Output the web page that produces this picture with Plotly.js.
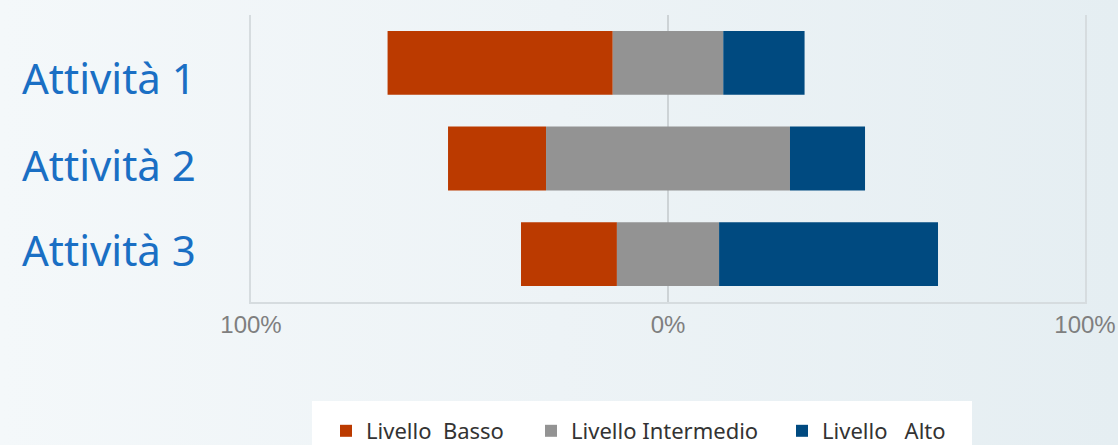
<!DOCTYPE html>
<html>
<head>
<meta charset="utf-8">
<script src="https://cdn.plot.ly/plotly-3.0.1.min.js"></script>
<style>
  html, body { margin: 0; padding: 0; }
  body { width: 1118px; height: 445px; overflow: hidden;
         background: linear-gradient(90deg, #f4f8fa 0%, #edf3f6 50%, #e5eef2 100%); }
  #chart { width: 1118px; height: 445px; }
</style>
</head>
<body>
<div id="chart"></div>
<script>
// ---- data ----
const categories = ["Attività 1", "Attività 2", "Attività 3"];
const seriesNames = ["Livello\u00a0\u00a0Basso", "Livello Intermedio", "Livello\u00a0\u00a0\u00a0Alto"];
const basso = [54, 23.5, 23];
const intermedio = [26.5, 58.5, 24.5];
const alto = [19.5, 18, 52.5];
const tickValues = [-100, 0, 100];
const tickLabels = ["100%", "0%", "100%"];

// ---- style ----
const colors = ["#bb3a00", "#939393", "#004a80"];
const W = 1118, H = 445;
const M = {l: 251, r: 33, t: 15, b: 143, autoexpand: false};
const plotW = W - M.l - M.r, plotH = H - M.t - M.b;
const px2x = p => (p - M.l) / plotW;
const px2y = p => (H - M.b - p) / plotH;
const labelCenters = [77, 164, 250];
const legendLefts = [326, 531, 782];
const legendIds = ["legend", "legend2", "legend3"];

const halfInter = intermedio.map(v => v / 2);
const baseB = basso.map((v, i) => -halfInter[i] - v);
const baseI = halfInter.map(v => -v);
const baseA = halfInter.slice();

const mk = (name, vals, base, color, leg) => ({
  type: "bar", orientation: "h", name: name,
  y: categories, x: vals, base: base, width: 0.667,
  marker: {color: color, line: {width: 0}},
  legend: leg,
  hoverinfo: "skip"
});

const data = [
  mk(seriesNames[0], basso, baseB, colors[0], legendIds[0]),
  mk(seriesNames[1], intermedio, baseI, colors[1], legendIds[1]),
  mk(seriesNames[2], alto, baseA, colors[2], legendIds[2])
];

const legendStyle = i => ({
  orientation: "h",
  x: px2x(legendLefts[i]), y: px2y(410), xanchor: "left", yanchor: "top",
  bgcolor: "rgba(0,0,0,0)", borderwidth: 0,
  font: {family: "Noto Sans, Open Sans, sans-serif", size: 22, color: "#333333"},
  itemclick: false, itemdoubleclick: false
});

const layout = {
  width: W, height: H,
  margin: M,
  paper_bgcolor: "rgba(0,0,0,0)",
  plot_bgcolor: "rgba(0,0,0,0)",
  barmode: "overlay",
  showlegend: true,
  font: {family: "Noto Sans, Open Sans, sans-serif"},
  xaxis: {
    range: [-100, 100], fixedrange: true,
    tickmode: "array", tickvals: tickValues, ticktext: tickLabels,
    showgrid: false,
    zeroline: true, zerolinecolor: "#cdd3d6", zerolinewidth: 2,
    showline: true, linecolor: "#d6dcdf", linewidth: 2,
    ticks: "", ticklen: 0,
    layer: "above traces",
    tickfont: {family: "Liberation Sans Narrow, Liberation Sans, sans-serif", size: 24, color: "#7f7f7f"}
  },
  yaxis: {
    type: "category", range: [2.5, -0.5], fixedrange: true,
    showticklabels: false, showgrid: false, zeroline: false,
    showline: true, mirror: true, linecolor: "#d6dcdf", linewidth: 2
  },
  legend: legendStyle(0),
  legend2: legendStyle(1),
  legend3: legendStyle(2),
  shapes: [{
    type: "rect", xref: "paper", yref: "paper", layer: "below",
    x0: px2x(312), x1: px2x(972), y0: px2y(401), y1: px2y(460),
    fillcolor: "#ffffff", line: {width: 0}
  }],
  annotations: categories.map((c, i) => ({
    text: c, xref: "paper", yref: "paper",
    x: px2x(20), y: px2y(labelCenters[i]),
    xanchor: "left", yanchor: "middle", showarrow: false,
    font: {family: "Noto Sans, Open Sans, sans-serif", size: 42, color: "#1a6fc4"}
  }))
};

Plotly.newPlot("chart", data, layout, {staticPlot: true, displayModeBar: false});
</script>
</body>
</html>
